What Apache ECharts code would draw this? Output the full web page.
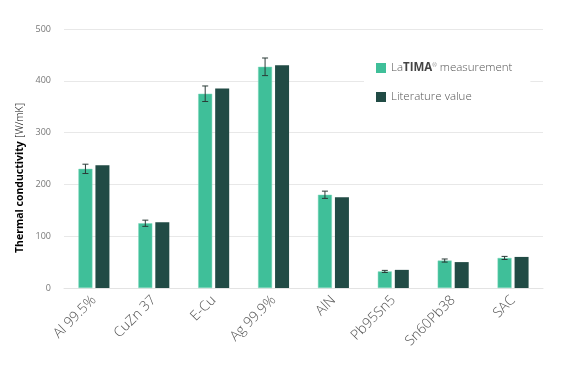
<!DOCTYPE html>
<html><head><meta charset="utf-8">
<script src="https://cdn.jsdelivr.net/npm/echarts@6/dist/echarts.min.js"></script>
<style>html,body{margin:0;padding:0;background:#fff}#c{width:579px;height:371px}</style>
</head><body><div id="c"></div>
<script>
var categories = ['Al 99.5%', 'CuZn 37', 'E-Cu', 'Ag 99.9%', 'AlN', 'Pb95Sn5', 'Sn60Pb38', 'SAC'];
var measurement = [230, 125, 375, 427, 180, 32, 53, 58];
var measurementErr = [9, 6, 15, 17, 7, 2, 3, 3];
var literature = [237, 127, 385, 430, 175, 35, 50, 60];
var yTicks = [0, 100, 200, 300, 400, 500];

var C1 = '#3fbf99', C2 = '#214b45';
var chart = echarts.init(document.getElementById('c'));
var BW = 14, GAP = 3;
chart.setOption({
  backgroundColor: '#fff',
  textStyle: {fontFamily: 'Open Sans'},
  grid: {left: 64, right: 36, top: 29, bottom: 83},
  legend: {
    orient: 'vertical', left: 364, top: 54, itemWidth: 10, itemHeight: 10, itemGap: 17,
    padding: [8, 18, 8, 12], backgroundColor: '#fff',
    icon: 'rect',
    itemStyle: {borderWidth: 0},
    textStyle: {fontSize: 11.5, color: '#555', fontWeight: 300,
      rich: {b: {fontSize: 11.5, color: '#444', fontWeight: 'bold'}, s: {fontSize: 5.5, color: '#444', verticalAlign: 'top', padding: [0,0,6,0]}}},
    formatter: function (n) { return n === 'meas' ? 'La{b|TIMA}{s|®} measurement' : 'Literature value'; },
    data: ['meas', 'lit']
  },
  xAxis: {
    type: 'category', data: categories,
    axisLine: {lineStyle: {color: '#e3e3e3'}}, axisTick: {show: false},
    axisLabel: {rotate: 45, fontSize: 14, color: '#555', margin: 10, fontWeight: 300}
  },
  yAxis: {
    type: 'value', min: yTicks[0], max: yTicks[yTicks.length - 1], interval: 100,
    axisLine: {show: false}, axisTick: {show: false},
    splitLine: {lineStyle: {color: '#e8e8e8'}},
    axisLabel: {fontSize: 9, color: '#777', margin: 13}
  },
  graphic: [{
    type: 'text', x: 20, y: 178, rotation: Math.PI / 2,
    style: {
      text: '{b|Thermal conductivity} {l|[W/mK]}', align: 'center', verticalAlign: 'middle',
      rich: {b: {fontSize: 10.5, fontWeight: 'bold', color: '#444', fontFamily: 'Open Sans'},
             l: {fontSize: 10.5, color: '#888', fontFamily: 'Open Sans', fontWeight: 300}}
    }
  }],
  series: [
    {name: 'meas', type: 'bar', data: measurement, barWidth: BW, barGap: (GAP / BW * 100) + '%',
     itemStyle: {color: C1, borderColor: '#7fd8bd', borderWidth: 0.5}},
    {name: 'lit', type: 'bar', data: literature, barWidth: BW,
     itemStyle: {color: C2}},
    {name: 'err', type: 'custom', z: 10,
     data: measurement.map(function (v, i) { return [i, v - measurementErr[i], v + measurementErr[i]]; }),
     renderItem: function (params, api) {
       var lo = api.coord([api.value(0), api.value(1)]);
       var hi = api.coord([api.value(0), api.value(2)]);
       var x = lo[0] - (BW + GAP) / 2;
       var cap = 3;
       var st = {stroke: '#2a3b37', lineWidth: 1};
       return {type: 'group', children: [
         {type: 'line', shape: {x1: x, y1: lo[1], x2: x, y2: hi[1]}, style: st},
         {type: 'line', shape: {x1: x - cap, y1: lo[1], x2: x + cap, y2: lo[1]}, style: st},
         {type: 'line', shape: {x1: x - cap, y1: hi[1], x2: x + cap, y2: hi[1]}, style: st}
       ]};
     }}
  ]
});
</script></body></html>
